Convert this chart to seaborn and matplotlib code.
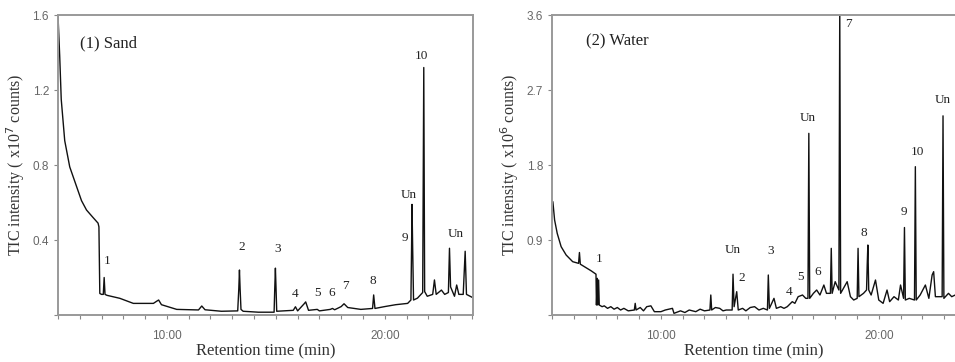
import matplotlib
matplotlib.use("Agg")
import matplotlib.pyplot as plt
from matplotlib.ticker import FixedLocator, MultipleLocator
import pandas as pd
import seaborn as sns

# ---- data ----
# (1) Sand, intensity in x10^7 counts
sand_time = [5.00, 5.08, 5.15, 5.31, 5.54, 5.84, 6.08, 6.31, 6.61, 6.84, 6.88, 6.92,
             7.00, 7.08, 7.12, 7.16, 7.25, 7.84, 8.46, 9.38, 9.55, 9.62, 9.75, 10.45,
             11.45, 11.60, 11.75, 12.50, 13.25, 13.30, 13.33, 13.36, 13.40, 13.50,
             14.20, 14.92, 14.95, 14.98, 15.01, 15.04, 15.80, 15.90, 16.00, 16.30,
             16.37, 16.50, 16.90, 17.00, 17.50, 17.60, 17.70, 18.00, 18.13, 18.30,
             18.90, 19.44, 19.49, 19.55, 20.00, 20.50, 21.05, 21.20, 21.23, 21.25,
             21.28, 21.32, 21.50, 21.74, 21.79, 21.83, 21.95, 22.20, 22.28, 22.36,
             22.60, 22.75, 22.92, 22.97, 23.02, 23.20, 23.30, 23.40, 23.60, 23.69,
             23.75, 24.10]
sand_tic = [1.60, 1.38, 1.15, 0.93, 0.79, 0.69, 0.61, 0.56, 0.52, 0.49, 0.47, 0.115,
            0.11, 0.11, 0.20, 0.11, 0.105, 0.089, 0.062, 0.062, 0.075, 0.080, 0.055, 0.030,
            0.027, 0.048, 0.028, 0.020, 0.022, 0.14, 0.24, 0.14, 0.030, 0.020,
            0.015, 0.015, 0.14, 0.25, 0.14, 0.020, 0.025, 0.044, 0.022, 0.060,
            0.070, 0.025, 0.030, 0.022, 0.030, 0.035, 0.028, 0.045, 0.060, 0.040,
            0.030, 0.035, 0.107, 0.035, 0.045, 0.055, 0.062, 0.080, 0.36, 0.59,
            0.36, 0.080, 0.090, 0.120, 1.32, 0.125, 0.100, 0.110, 0.187, 0.110,
            0.133, 0.110, 0.120, 0.356, 0.150, 0.100, 0.160, 0.110, 0.110, 0.340,
            0.110, 0.089]
sand_labels = ["1", "2", "3", "4", "5", "6", "7", "8", "9", "Un", "10", "Un"]
sand_lab_t = [7.26, 13.45, 15.06, 15.90, 16.90, 17.57, 18.21, 19.47, 20.90, 21.08, 21.70, 23.25]
sand_lab_y = [0.258, 0.329, 0.320, 0.080, 0.085, 0.085, 0.125, 0.150, 0.380, 0.610, 1.350, 0.400]

# (2) Water, intensity in x10^6 counts
water_time = [5.04, 5.12, 5.24, 5.42, 5.65, 5.95, 6.22, 6.26, 6.30, 6.49, 6.80, 7.02,
              7.04, 7.08, 7.10, 7.14, 7.17, 7.30, 7.40, 7.55, 7.70, 7.85, 8.00, 8.15,
              8.30, 8.50, 8.78, 8.82, 8.86, 9.05, 9.20, 9.35, 9.54, 9.70, 10.00, 10.20,
              10.53, 10.60, 10.90, 11.10, 11.30, 11.60, 11.80, 12.00, 12.25, 12.29,
              12.33, 12.50, 12.70, 12.85, 13.00, 13.27, 13.31, 13.36, 13.48, 13.55,
              13.75, 13.90, 14.10, 14.30, 14.50, 14.70, 14.89, 14.93, 14.98, 15.19,
              15.30, 15.50, 15.65, 15.80, 16.03, 16.15, 16.30, 16.50, 16.65, 16.75,
              16.79, 16.83, 17.00, 17.15, 17.30, 17.48, 17.60, 17.78, 17.82, 17.86,
              18.00, 18.17, 18.21, 18.25, 18.55, 18.70, 18.85, 19.01, 19.05, 19.09,
              19.30, 19.44, 19.47, 19.50, 19.54, 19.65, 19.85, 20.00, 20.20, 20.38,
              20.50, 20.70, 20.90, 21.00, 21.14, 21.18, 21.22, 21.40, 21.64, 21.68,
              21.72, 21.90, 22.14, 22.30, 22.45, 22.52, 22.60, 22.91, 22.95, 22.99,
              23.20, 23.35, 23.51]
water_tic = [1.36, 1.14, 0.98, 0.82, 0.72, 0.64, 0.62, 0.75, 0.61, 0.58, 0.53, 0.49,
             0.12, 0.44, 0.12, 0.42, 0.12, 0.10, 0.11, 0.08, 0.10, 0.07, 0.09, 0.06,
             0.08, 0.05, 0.06, 0.14, 0.06, 0.09, 0.05, 0.10, 0.11, 0.04, 0.04, 0.06,
             0.08, 0.02, 0.05, 0.03, 0.06, 0.04, 0.07, 0.05, 0.06, 0.24,
             0.06, 0.09, 0.08, 0.05, 0.06, 0.06, 0.49, 0.10, 0.28, 0.06,
             0.08, 0.05, 0.09, 0.10, 0.06, 0.08, 0.06, 0.48, 0.08, 0.20,
             0.08, 0.10, 0.08, 0.10, 0.16, 0.14, 0.22, 0.24, 0.20, 0.20,
             2.18, 0.20, 0.26, 0.30, 0.24, 0.36, 0.26, 0.26, 0.80, 0.26,
             0.40, 0.30, 3.70, 0.26, 0.40, 0.22, 0.18, 0.20, 0.80, 0.22,
             0.26, 0.30, 0.60, 0.84, 0.30, 0.24, 0.42, 0.18, 0.14, 0.30,
             0.16, 0.22, 0.18, 0.36, 0.20, 1.05, 0.18, 0.20, 0.18, 1.78,
             0.18, 0.24, 0.36, 0.20, 0.48, 0.52, 0.22, 0.22, 2.39, 0.20,
             0.26, 0.22, 0.24]
water_labels = ["1", "Un", "2", "3", "4", "5", "6", "Un", "7", "8", "9", "10", "Un"]
water_lab_t = [7.18, 13.28, 13.71, 15.04, 15.88, 16.41, 17.18, 16.76, 18.60, 19.31, 21.15, 21.76, 22.95]
water_lab_y = [0.60, 0.71, 0.37, 0.70, 0.20, 0.38, 0.44, 2.29, 3.42, 0.91, 1.16, 1.89, 2.51]

sns.set_style("ticks")
plt.rcParams["font.family"] = ["Liberation Serif", "DejaVu Serif"]

fig = plt.figure(figsize=(9.55, 3.62), dpi=100)
ax1 = fig.add_axes([0.0607, 0.1298, 0.4346, 0.8287])
ax2 = fig.add_axes([0.578, 0.1298, 0.422, 0.8287])

panels = [
    (ax1, sand_time, sand_tic, sand_labels, sand_lab_t, sand_lab_y,
     "(1) Sand", 6.0, 1.45, (5.0, 24.05), (0, 1.6), [0, 0.4, 0.8, 1.2, 1.6],
     "TIC intensity ( x10$^{7}$ counts)"),
    (ax2, water_time, water_tic, water_labels, water_lab_t, water_lab_y,
     "(2) Water", 6.56, 3.28, (5.0, 23.5), (0, 3.6), [0, 0.9, 1.8, 2.7, 3.6],
     "TIC intensity ( x10$^{6}$ counts)"),
]

for ax, t, y, labs, lt, ly, title, tx, ty, xlim, ylim, yt, ylab in panels:
    df = pd.DataFrame({"time": t, "tic": y})
    sns.lineplot(data=df, x="time", y="tic", ax=ax, color="#111111", lw=1.0,
                 sort=False, estimator=None)
    for s, xx, yy in zip(labs, lt, ly):
        ax.text(xx, yy, s, ha="center", va="bottom", fontsize=9.5, color="#222222")
    ax.text(tx, ty, title, ha="left", va="center", fontsize=12, color="#222222")
    ax.set_xlim(*xlim)
    ax.set_ylim(*ylim)
    ax.xaxis.set_major_locator(FixedLocator([10, 20]))
    ax.xaxis.set_minor_locator(MultipleLocator(1))
    ax.set_xticklabels(["10:00", "20:00"])
    ax.set_yticks(yt)
    ax.set_yticklabels(["" if v == 0 else f"{v:.1f}" for v in yt])
    ax.tick_params(axis="both", which="both", direction="out", color="#888888",
                   labelcolor="#666666", labelsize=8.5, length=3, width=0.8)
    ax.tick_params(axis="x", which="major", pad=8)
    for lab in ax.get_xticklabels() + ax.get_yticklabels():
        lab.set_family(["Liberation Sans", "DejaVu Sans"])
    for side in ["left", "bottom", "top", "right"]:
        ax.spines[side].set_visible(True)
        ax.spines[side].set_color("#999999")
        ax.spines[side].set_linewidth(1.4)
    ax.set_xlabel("Retention time (min)", fontsize=12, color="#333333", labelpad=1)
    ax.set_ylabel(ylab, fontsize=11.5, color="#333333", labelpad=4)

ax2.spines["right"].set_visible(False)

fig.savefig("out.png", dpi=100)
